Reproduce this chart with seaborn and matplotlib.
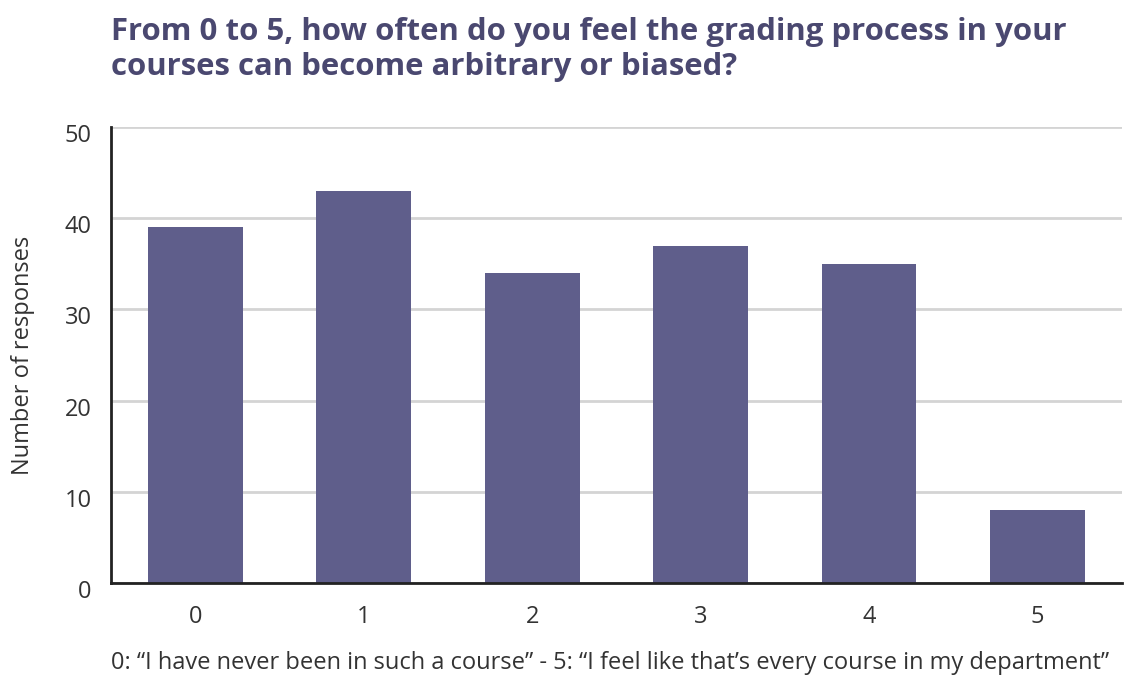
import matplotlib
matplotlib.use("Agg")
import matplotlib.pyplot as plt
import matplotlib.transforms as mtransforms
import seaborn as sns
import pandas as pd

categories = ["0", "1", "2", "3", "4", "5"]
responses = [39, 43, 34, 37, 35, 8]
y_ticks = [0, 10, 20, 30, 40, 50]

title = "From 0 to 5, how often do you feel the grading process in your\ncourses can become arbitrary or biased?"
y_label = "Number of responses"
caption = "0: \u201cI have never been in such a course\u201d - 5: \u201cI feel like that\u2019s every course in my department\u201d"

sns.set_theme(style="white")
plt.rcParams['font.family'] = ['Open Sans', 'DejaVu Sans']

df = pd.DataFrame({"rating": categories, "count": responses})

fig = plt.figure(figsize=(11.24, 6.77), dpi=100)
ax = fig.add_axes([0.0988, 0.1388, 0.8992, 0.6736])

sns.barplot(data=df, x="rating", y="count", color="#5f5e8b", width=0.563,
            saturation=1, linewidth=0, edgecolor="none", ax=ax, zorder=3)

ax.set_ylim(0, 50)
ax.set_xlim(-0.5, 5.5)
ax.set_yticks(y_ticks)
ax.yaxis.grid(True, color="#d4d4d4", linewidth=2, zorder=0)
ax.xaxis.grid(False)
for s in ["top", "right"]:
    ax.spines[s].set_visible(False)
for s in ["left", "bottom"]:
    ax.spines[s].set_color("#222222")
    ax.spines[s].set_linewidth(2)
    ax.spines[s].set_zorder(4)

ax.tick_params(axis="both", length=0, labelsize=17, labelcolor="#333333")
ax.tick_params(axis="y", pad=14)
ax.tick_params(axis="x", pad=16)
ax.set_xlabel("")
ax.set_ylabel(y_label, fontsize=17, color="#333333", labelpad=21)

offset = mtransforms.ScaledTranslation(0, -6 / 100, fig.dpi_scale_trans)
for lbl in ax.get_yticklabels():
    lbl.set_transform(lbl.get_transform() + offset)

fig.text(0.0988, 0.975, title, fontsize=22.4, fontweight="bold", color="#4a4870",
         ha="left", va="top", linespacing=1.2)
fig.text(0.0988, 0.0125, caption, fontsize=17, color="#333333", ha="left", va="baseline")

fig.savefig("out.png", dpi=100)
